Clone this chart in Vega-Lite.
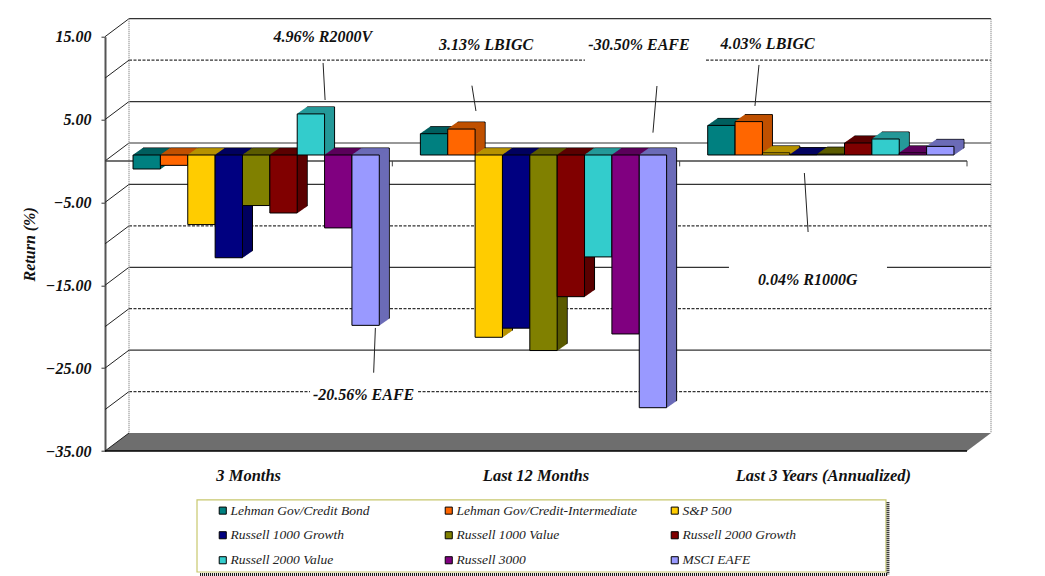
{
"$schema":"https://vega.github.io/schema/vega-lite/v6.json",
"autosize":{"type":"none"},
"width":862,"height":414.3,
"padding":{"left":105,"top":36.7,"right":78,"bottom":125},
"background":"white",
"config":{"view":{"stroke":null},"font":"Liberation Serif"},
"datasets":{
"returns":[
{"period":"3 Months","series":"Lehman Gov/Credit Bond","value":-1.69},
{"period":"3 Months","series":"Lehman Gov/Credit-Intermediate","value":-1.25},
{"period":"3 Months","series":"S&P 500","value":-8.4},
{"period":"3 Months","series":"Russell 1000 Growth","value":-12.4},
{"period":"3 Months","series":"Russell 1000 Value","value":-6.1},
{"period":"3 Months","series":"Russell 2000 Growth","value":-7.0},
{"period":"3 Months","series":"Russell 2000 Value","value":4.96},
{"period":"3 Months","series":"Russell 3000","value":-8.8},
{"period":"3 Months","series":"MSCI EAFE","value":-20.56},
{"period":"Last 12 Months","series":"Lehman Gov/Credit Bond","value":2.57},
{"period":"Last 12 Months","series":"Lehman Gov/Credit-Intermediate","value":3.13},
{"period":"Last 12 Months","series":"S&P 500","value":-22.0},
{"period":"Last 12 Months","series":"Russell 1000 Growth","value":-20.9},
{"period":"Last 12 Months","series":"Russell 1000 Value","value":-23.6},
{"period":"Last 12 Months","series":"Russell 2000 Growth","value":-17.1},
{"period":"Last 12 Months","series":"Russell 2000 Value","value":-12.3},
{"period":"Last 12 Months","series":"Russell 3000","value":-21.6},
{"period":"Last 12 Months","series":"MSCI EAFE","value":-30.5},
{"period":"Last 3 Years (Annualized)","series":"Lehman Gov/Credit Bond","value":3.57},
{"period":"Last 3 Years (Annualized)","series":"Lehman Gov/Credit-Intermediate","value":4.03},
{"period":"Last 3 Years (Annualized)","series":"S&P 500","value":0.25},
{"period":"Last 3 Years (Annualized)","series":"Russell 1000 Growth","value":0.04},
{"period":"Last 3 Years (Annualized)","series":"Russell 1000 Value","value":0.1},
{"period":"Last 3 Years (Annualized)","series":"Russell 2000 Growth","value":1.45},
{"period":"Last 3 Years (Annualized)","series":"Russell 2000 Value","value":1.93},
{"period":"Last 3 Years (Annualized)","series":"Russell 3000","value":0.25},
{"period":"Last 3 Years (Annualized)","series":"MSCI EAFE","value":1.04}
],
"solidGrid":[
{"v":15,"t0":0,"t1":3},{"v":5,"t0":0,"t1":3},{"v":0,"t0":0,"t1":3},{"v":-5,"t0":0,"t1":3},
{"v":-15,"t0":0,"t1":2.088},{"v":-15,"t0":2.638,"t1":3},{"v":-25,"t0":0,"t1":3}
],
"dashedGrid":[
{"v":10,"t0":0,"t1":1.587},{"v":10,"t0":2.008,"t1":3},{"v":-10,"t0":0,"t1":3},{"v":-20,"t0":0,"t1":3},
{"v":-30,"t0":0,"t1":0.63},{"v":-30,"t0":1.006,"t1":3}
],
"ties":[{"v":15},{"v":10},{"v":5},{"v":0},{"v":-5},{"v":-10},{"v":-15},{"v":-20},{"v":-25},{"v":-30},{"v":-35}],
"floor":[{"v":-35,"t0":0,"t1":3},{"v":-32.83,"t0":0.0835,"t1":3.0835}],
"groupTicks":[{"t":1},{"t":2},{"t":3}],
"leaders":[
{"t0":0.759,"t1":0.766,"v0":11.83,"v1":7.36},
{"t0":1.277,"t1":1.291,"v0":9.09,"v1":6.03},
{"t0":1.921,"t1":1.907,"v0":9.05,"v1":3.42},
{"t0":2.276,"t1":2.262,"v0":11.59,"v1":6.64},
{"t0":2.434,"t1":2.447,"v0":-1.45,"v1":-8.57},
{"t0":0.941,"t1":0.935,"v0":-20.15,"v1":-25.55}
],
"notes":[
{"t":0.7578,"v":14.93,"label":"4.96% R2000V"},
{"t":1.3261,"v":13.99,"label":"3.13% LBIGC"},
{"t":1.8585,"v":13.99,"label":"-30.50% EAFE"},
{"t":2.3062,"v":14.07,"label":"4.03% LBIGC"},
{"t":2.4456,"v":-14.36,"label":"0.04% R1000G"},
{"t":0.9,"v":-28.24,"label":"-20.56% EAFE"}
]
},
"resolve":{"scale":{"x":"independent","xOffset":"independent"},"axis":{"y":"independent"}},
"layer":[
{"layer":[
{"data":{"name":"floor"},"mark":{"type":"area","orient":"horizontal","fill":"#6e6e6e"},
"encoding":{"x":{"field":"t0","type":"quantitative","axis":null,"scale":{"domain":[0,3],"nice":false,"zero":false}},"x2":{"field":"t1"},
"y":{"field":"v","type":"quantitative","axis":null,"scale":{"domain":[-35,15],"nice":false,"zero":false}}}},
{"data":{"name":"solidGrid"},"mark":{"type":"rule","color":"#333","strokeWidth":1.2,"xOffset":24,"x2Offset":24,"yOffset":-18},
"encoding":{"x":{"field":"t0","type":"quantitative","axis":null},"x2":{"field":"t1"},"y":{"field":"v","type":"quantitative","axis":null}}},
{"data":{"name":"dashedGrid"},"mark":{"type":"rule","color":"#333","strokeWidth":1.2,"strokeDash":[3,1.5],"xOffset":24,"x2Offset":24,"yOffset":-18},
"encoding":{"x":{"field":"t0","type":"quantitative","axis":null},"x2":{"field":"t1"},"y":{"field":"v","type":"quantitative","axis":null}}},
{"data":{"name":"ties"},"mark":{"type":"rule","color":"#222","strokeWidth":1,"x2Offset":24,"y2Offset":-18},
"encoding":{"x":{"datum":0,"type":"quantitative","axis":null},"x2":{"datum":0},"y":{"field":"v","type":"quantitative","axis":null},"y2":{"field":"v"}}},
{"mark":{"type":"rule","color":"#999","strokeWidth":1.5,"strokeDash":[1,1],"xOffset":24,"yOffset":-18,"y2Offset":-18},"data":{"values":[{"a":0},{"a":3}]},
"encoding":{"x":{"field":"a","type":"quantitative","axis":null},"y":{"datum":15,"type":"quantitative","axis":null},"y2":{"datum":-35}}},
{"data":{"values":[{"v":-35}]},"mark":{"type":"rule","color":"#000","strokeWidth":1.5},
"encoding":{"x":{"datum":0,"type":"quantitative","axis":null},"x2":{"datum":3},"y":{"field":"v","type":"quantitative","axis":null}}},
{"data":{"values":[{"v":0}]},"mark":{"type":"rule","color":"#444","strokeWidth":1.5},
"encoding":{"x":{"datum":0,"type":"quantitative","axis":null},"x2":{"datum":3},"y":{"field":"v","type":"quantitative","axis":null}}},
{"data":{"name":"groupTicks"},"mark":{"type":"rule","color":"#444","strokeWidth":1},
"encoding":{"x":{"field":"t","type":"quantitative","axis":null},"y":{"datum":0,"type":"quantitative","axis":null},"y2":{"datum":-0.65}}},
{"data":{"name":"leaders"},"mark":{"type":"rule","color":"#222","strokeWidth":1},
"encoding":{"x":{"field":"t0","type":"quantitative","axis":null},"x2":{"field":"t1"},"y":{"field":"v0","type":"quantitative","axis":null},"y2":{"field":"v1"}}},
{"data":{"name":"notes"},"mark":{"type":"text","font":"Liberation Serif","fontStyle":"italic","fontWeight":"bold","fontSize":16,"color":"#111","align":"center","baseline":"middle"},
"encoding":{"x":{"field":"t","type":"quantitative","axis":null},"y":{"field":"v","type":"quantitative","axis":null},"text":{"field":"label"}}},
{"data":{"values":[{"a":0.3202,"b":2.718,"v":-40.91,"w":-49.6}]},"mark":{"type":"rect","fillOpacity":0,"stroke":"#c8c86e","strokeWidth":1.2},
"encoding":{"x":{"field":"a","type":"quantitative","axis":null},"x2":{"field":"b"},"y":{"field":"v","type":"quantitative","axis":null},"y2":{"field":"w"}}},
{"data":{"values":[{"a":0.331,"b":2.725,"v":-49.9}]},"mark":{"type":"rule","color":"#000","strokeWidth":3,"strokeDash":[1,1]},
"encoding":{"x":{"field":"a","type":"quantitative","axis":null},"x2":{"field":"b"},"y":{"field":"v","type":"quantitative","axis":null}}},
{"data":{"values":[{"a":2.725,"v":-41.2,"w":-49.9}]},"mark":{"type":"rule","color":"#000","strokeWidth":3,"strokeDash":[1,1]},
"encoding":{"x":{"field":"a","type":"quantitative","axis":null},"y":{"field":"v","type":"quantitative","axis":null},"y2":{"field":"w"}}}
]},
{"data":{"name":"returns"},"mark":{"type":"bar","stroke":"#000","strokeWidth":1,"yOffset":-13,"y2Offset":-13},"encoding":{"x":{"field":"period","type":"nominal","sort":null,"axis":null,"scale":{"range":[17.5,879.5],"paddingInner":0.143,"paddingOuter":0.0715}},"xOffset":{"field":"series","type":"nominal","sort":null},"y":{"field":"value","type":"quantitative","stack":null,"axis":null},"y2":{"datum":0},"color":{"field":"series","type":"nominal","sort":null,"legend":null,"scale":{"range":["#005f5f","#c05000","#b89300","#000060","#5c5c00","#5c0000","#269999","#5c005c","#6c6cb8"]}}}},
{"data":{"name":"returns"},"mark":{"type":"bar","strokeWidth":0.8,"yOffset":-12.3,"y2Offset":-12.3},"encoding":{"x":{"field":"period","type":"nominal","sort":null,"axis":null,"scale":{"range":[16.5,878.5],"paddingInner":0.143,"paddingOuter":0.0715}},"xOffset":{"field":"series","type":"nominal","sort":null},"y":{"field":"value","type":"quantitative","stack":null,"axis":null},"y2":{"datum":0},"color":{"field":"series","type":"nominal","sort":null,"legend":null},"stroke":{"field":"series","type":"nominal","sort":null,"legend":null,"scale":{"range":["#005f5f","#c05000","#b89300","#000060","#5c5c00","#5c0000","#269999","#5c005c","#6c6cb8"]}}}},
{"data":{"name":"returns"},"mark":{"type":"bar","strokeWidth":0.8,"yOffset":-11.6,"y2Offset":-11.6},"encoding":{"x":{"field":"period","type":"nominal","sort":null,"axis":null,"scale":{"range":[15.5,877.5],"paddingInner":0.143,"paddingOuter":0.0715}},"xOffset":{"field":"series","type":"nominal","sort":null},"y":{"field":"value","type":"quantitative","stack":null,"axis":null},"y2":{"datum":0},"color":{"field":"series","type":"nominal","sort":null,"legend":null},"stroke":{"field":"series","type":"nominal","sort":null,"legend":null}}},
{"data":{"name":"returns"},"mark":{"type":"bar","strokeWidth":0.8,"yOffset":-10.9,"y2Offset":-10.9},"encoding":{"x":{"field":"period","type":"nominal","sort":null,"axis":null,"scale":{"range":[14.5,876.5],"paddingInner":0.143,"paddingOuter":0.0715}},"xOffset":{"field":"series","type":"nominal","sort":null},"y":{"field":"value","type":"quantitative","stack":null,"axis":null},"y2":{"datum":0},"color":{"field":"series","type":"nominal","sort":null,"legend":null},"stroke":{"field":"series","type":"nominal","sort":null,"legend":null}}},
{"data":{"name":"returns"},"mark":{"type":"bar","strokeWidth":0.8,"yOffset":-10.2,"y2Offset":-10.2},"encoding":{"x":{"field":"period","type":"nominal","sort":null,"axis":null,"scale":{"range":[13.5,875.5],"paddingInner":0.143,"paddingOuter":0.0715}},"xOffset":{"field":"series","type":"nominal","sort":null},"y":{"field":"value","type":"quantitative","stack":null,"axis":null},"y2":{"datum":0},"color":{"field":"series","type":"nominal","sort":null,"legend":null},"stroke":{"field":"series","type":"nominal","sort":null,"legend":null}}},
{"data":{"name":"returns"},"mark":{"type":"bar","strokeWidth":0.8,"yOffset":-9.5,"y2Offset":-9.5},"encoding":{"x":{"field":"period","type":"nominal","sort":null,"axis":null,"scale":{"range":[12.5,874.5],"paddingInner":0.143,"paddingOuter":0.0715}},"xOffset":{"field":"series","type":"nominal","sort":null},"y":{"field":"value","type":"quantitative","stack":null,"axis":null},"y2":{"datum":0},"color":{"field":"series","type":"nominal","sort":null,"legend":null},"stroke":{"field":"series","type":"nominal","sort":null,"legend":null}}},
{"data":{"name":"returns"},"mark":{"type":"bar","strokeWidth":0.8,"yOffset":-8.8,"y2Offset":-8.8},"encoding":{"x":{"field":"period","type":"nominal","sort":null,"axis":null,"scale":{"range":[11.5,873.5],"paddingInner":0.143,"paddingOuter":0.0715}},"xOffset":{"field":"series","type":"nominal","sort":null},"y":{"field":"value","type":"quantitative","stack":null,"axis":null},"y2":{"datum":0},"color":{"field":"series","type":"nominal","sort":null,"legend":null},"stroke":{"field":"series","type":"nominal","sort":null,"legend":null}}},
{"data":{"name":"returns"},"mark":{"type":"bar","strokeWidth":0.8,"yOffset":-8.1,"y2Offset":-8.1},"encoding":{"x":{"field":"period","type":"nominal","sort":null,"axis":null,"scale":{"range":[10.5,872.5],"paddingInner":0.143,"paddingOuter":0.0715}},"xOffset":{"field":"series","type":"nominal","sort":null},"y":{"field":"value","type":"quantitative","stack":null,"axis":null},"y2":{"datum":0},"color":{"field":"series","type":"nominal","sort":null,"legend":null},"stroke":{"field":"series","type":"nominal","sort":null,"legend":null}}},
{"data":{"name":"returns"},"mark":{"type":"bar","strokeWidth":0.8,"yOffset":-7.4,"y2Offset":-7.4},"encoding":{"x":{"field":"period","type":"nominal","sort":null,"axis":null,"scale":{"range":[9.5,871.5],"paddingInner":0.143,"paddingOuter":0.0715}},"xOffset":{"field":"series","type":"nominal","sort":null},"y":{"field":"value","type":"quantitative","stack":null,"axis":null},"y2":{"datum":0},"color":{"field":"series","type":"nominal","sort":null,"legend":null},"stroke":{"field":"series","type":"nominal","sort":null,"legend":null}}},
{"data":{"name":"returns"},"mark":{"type":"bar","strokeWidth":0.8,"yOffset":-6.7,"y2Offset":-6.7},"encoding":{"x":{"field":"period","type":"nominal","sort":null,"axis":null,"scale":{"range":[8.5,870.5],"paddingInner":0.143,"paddingOuter":0.0715}},"xOffset":{"field":"series","type":"nominal","sort":null},"y":{"field":"value","type":"quantitative","stack":null,"axis":null},"y2":{"datum":0},"color":{"field":"series","type":"nominal","sort":null,"legend":null},"stroke":{"field":"series","type":"nominal","sort":null,"legend":null}}},
{"data":{"name":"returns"},"mark":{"type":"bar","stroke":"#000","strokeWidth":1,"yOffset":-6,"y2Offset":-6},
"encoding":{"x":{"field":"period","type":"nominal","sort":null,"title":null,"axis":{"orient":"bottom","domain":false,"ticks":false,"labelAngle":0,"labelOffset":-7.5,"labelPadding":16,"labelFont":"Liberation Serif","labelFontStyle":"italic","labelFontWeight":"bold","labelFontSize":16.5,"labelColor":"#111"},"scale":{"range":[7.5,869.5],"paddingInner":0.143,"paddingOuter":0.0715}},
"xOffset":{"field":"series","type":"nominal","sort":null},
"y":{"field":"value","type":"quantitative","stack":null,
"axis":{"orient":"left","values":[15,5,-5,-15,-25,-35],"format":".2f","grid":false,"title":"Return (%)","titleFont":"Liberation Serif","titleFontStyle":"italic","titleFontWeight":"bold","titleFontSize":16,"titleColor":"#111","titlePadding":8,"labelFont":"Liberation Serif","labelFontStyle":"italic","labelFontWeight":"bold","labelFontSize":16,"labelColor":"#111","labelPadding":10,"tickSize":4,"tickColor":"#333","domainColor":"#555","domainWidth":2}},
"y2":{"datum":0},
"fill":{"field":"series","type":"nominal","sort":null,"title":null,"scale":{"range":["#008080","#ff6600","#ffcc00","#000080","#808000","#800000","#33cccc","#800080","#9999ff"]},
"legend":{"orient":"none","legendX":111,"legendY":466.8,"columns":3,"gridAlign":"all","direction":"horizontal","padding":0,"symbolType":"square","symbolSize":50,"symbolStrokeColor":"#000","symbolStrokeWidth":1,"labelOffset":1,"labelFont":"Liberation Serif","labelFontStyle":"italic","labelFontSize":13.5,"labelColor":"#222","labelLimit":220,"columnPadding":30,"rowPadding":10}}}}
]
}
